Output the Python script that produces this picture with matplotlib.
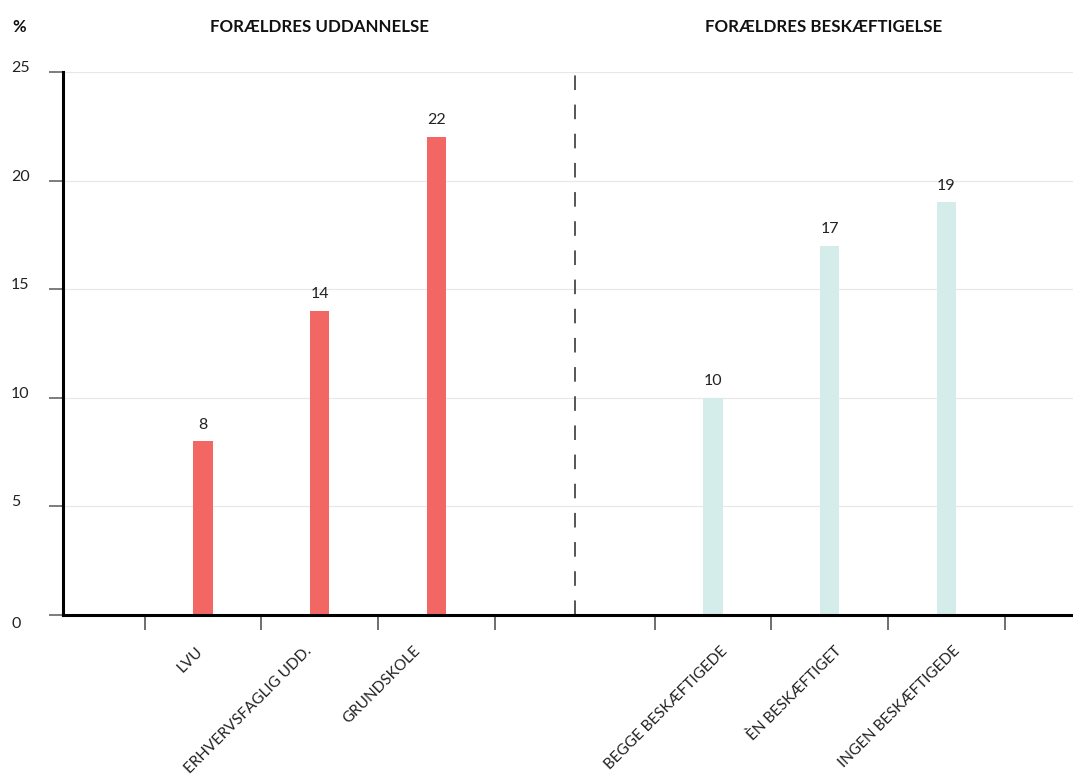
import matplotlib
matplotlib.use("Agg")
import matplotlib.pyplot as plt
from matplotlib.transforms import blended_transform_factory, offset_copy

plt.rcParams['font.family'] = ['Lato', 'DejaVu Sans']

# ---- data ----
edu_labels = ["LVU", "ERHVERVSFAGLIG UDD.", "GRUNDSKOLE"]
edu_values = [8, 14, 22]
emp_labels = ["BEGGE BESKÆFTIGEDE", "ÈN BESKÆFTIGET", "INGEN BESKÆFTIGEDE"]
emp_values = [10, 17, 19]
group_titles = ["FORÆLDRES UDDANNELSE", "FORÆLDRES BESKÆFTIGELSE"]
y_ticks = [0, 5, 10, 15, 20, 25]
y_unit = "%"

# ---- layout ----
W, H = 1073, 776
fig = plt.figure(figsize=(W / 100, H / 100), dpi=100)
ax = fig.add_axes([63 / W, (H - 615) / H, (W - 63) / W, (615 - 72) / H])

edu_x = [0, 1, 2]
gap = 4.37
emp_x = [i + gap for i in range(3)]
edu_label_dx = [-2, -10, -18]   # pixel nudges of rotated labels
emp_label_dx = [12, 10, 11]
bw = 0.165
red = "#F26764"
teal = "#D5EDEA"
txt = "#222222"

ax.bar(edu_x, edu_values, width=bw, color=red, zorder=2)
ax.bar(emp_x, emp_values, width=bw, color=teal, zorder=2)

for x, v in list(zip(edu_x, edu_values)) + list(zip(emp_x, emp_values)):
    ax.annotate(str(v), (x, v), xytext=(0, 7), textcoords="offset points",
                ha="center", va="bottom", fontsize=11.5, color=txt)

ax.set_xlim(-1.2, 7.455)
ax.set_ylim(0, 25)

# grid
ax.set_yticks(y_ticks)
ax.yaxis.grid(True, color="#e8e8e8", linewidth=0.9, zorder=0)
ax.set_axisbelow(True)
ax.tick_params(axis="y", direction="out", length=10, width=1.2, color="#666666",
               labelleft=False)
trans = blended_transform_factory(fig.transFigure, ax.transData)
for t in y_ticks:
    dy = -9 if t == y_ticks[0] else 4
    tr = offset_copy(trans, fig=fig, x=0, y=dy, units="dots")
    ax.text(11 / W, t, str(t), transform=tr, ha="left", va="center",
            fontsize=11.5, color=txt)

# x ticks: marks at boundaries, labels at bars
bounds = [x - 0.5 for x in edu_x] + [edu_x[-1] + 0.5] + \
         [x - 0.5 for x in emp_x] + [emp_x[-1] + 0.5]
ax.set_xticks(bounds)
ax.set_xticklabels([])
ax.tick_params(axis="x", direction="out", length=10.5, width=1.2, color="#555555")

base = blended_transform_factory(ax.transData, ax.transAxes)
for xs, labs, dxs in [(edu_x, edu_labels, edu_label_dx), (emp_x, emp_labels, emp_label_dx)]:
    for x, lab, dx in zip(xs, labs, dxs):
        tr = offset_copy(base, fig=fig, x=dx, y=-34, units="dots")
        ax.text(x, 0, lab, transform=tr, rotation=45, rotation_mode="anchor",
                ha="right", va="center", fontsize=11, color=txt)

# spines
for s in ["top", "right"]:
    ax.spines[s].set_visible(False)
for s in ["left", "bottom"]:
    ax.spines[s].set_linewidth(2.2)
    ax.spines[s].set_color("#000000")
    ax.spines[s].set_zorder(3)

# dashed separator
sep_x = (edu_x[-1] + 0.5 + emp_x[0] - 0.5) / 2
ax.plot([sep_x, sep_x], [0, 25], color="#555555", linewidth=1.4,
        dashes=(7.5, 7.5), zorder=2)

# titles
fig.text(12 / W, 1 - 27 / H, y_unit, ha="left", va="center", fontsize=12,
         fontweight="bold", color="#111111")
fig.text(320 / W, 1 - 27 / H, group_titles[0], ha="center", va="center",
         fontsize=12.2, fontweight="bold", color="#111111")
fig.text(824 / W, 1 - 27 / H, group_titles[1], ha="center", va="center",
         fontsize=12.2, fontweight="bold", color="#111111")

fig.savefig("out.png", dpi=100)
